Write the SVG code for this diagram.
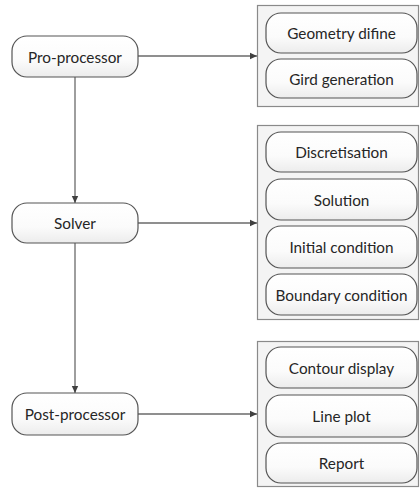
<svg xmlns="http://www.w3.org/2000/svg" width="420" height="489" viewBox="0 0 420 489">
<defs>
<linearGradient id="pill" x1="0" y1="0" x2="0" y2="1">
<stop offset="0" stop-color="#ffffff"/>
<stop offset="0.6" stop-color="#fbfbfb"/>
<stop offset="1" stop-color="#ececec"/>
</linearGradient>
<marker id="arr" markerWidth="8" markerHeight="8" refX="7" refY="4" orient="auto" markerUnits="userSpaceOnUse">
<path d="M0,0.8 L7,4 L0,7.2 Z" fill="#404040"/>
</marker>
</defs>
<style>
.pill{fill:url(#pill);stroke:#555;stroke-width:1.2}
.box{fill:#f4f4f4;stroke:#8a8a8a;stroke-width:1.2}
text{font-family:Lato,"Open Sans","Liberation Sans",sans-serif;font-size:15.3px;fill:#262626;text-anchor:middle;dominant-baseline:central}
.c{fill:none;stroke:#6a6a6a;stroke-width:1.3}
</style>
<rect width="420" height="489" fill="#ffffff"/>
<g id="connectors">
<line class="c" x1="75" y1="77" x2="75" y2="203" marker-end="url(#arr)"/>
<line class="c" x1="75" y1="243" x2="75" y2="393" marker-end="url(#arr)"/>
<line class="c" x1="138" y1="56" x2="257" y2="56" marker-end="url(#arr)"/>
<line class="c" x1="138" y1="223" x2="257" y2="223" marker-end="url(#arr)"/>
<line class="c" x1="138" y1="414" x2="257" y2="414" marker-end="url(#arr)"/>
</g>
<g id="pro-processor">
<rect class="pill" x="12" y="36" width="126" height="41" rx="15"/>
<text x="75" y="56.5">Pro-processor</text>
</g>
<g id="solver">
<rect class="pill" x="12" y="203" width="126" height="40" rx="15"/>
<text x="75" y="223">Solver</text>
</g>
<g id="post-processor">
<rect class="pill" x="12" y="393" width="126" height="42" rx="15"/>
<text x="75" y="414">Post-processor</text>
</g>
<g id="group-pre">
<rect class="box" x="257.5" y="5.5" width="161" height="101"/>
<g id="geometry"><rect class="pill" x="266" y="13" width="151" height="40" rx="15"/><text x="341.5" y="33">Geometry difine</text></g>
<g id="grid"><rect class="pill" x="266" y="59" width="151" height="39" rx="15"/><text x="341.5" y="78.5">Gird generation</text></g>
</g>
<g id="group-solver">
<rect class="box" x="257.5" y="125.5" width="161" height="194"/>
<g id="discretisation"><rect class="pill" x="266" y="132" width="151" height="40" rx="15"/><text x="341.5" y="152">Discretisation</text></g>
<g id="solution"><rect class="pill" x="266" y="179" width="151" height="41" rx="15"/><text x="341.5" y="199.5">Solution</text></g>
<g id="initial"><rect class="pill" x="266" y="226" width="151" height="42" rx="15"/><text x="341.5" y="247">Initial condition</text></g>
<g id="boundary"><rect class="pill" x="266" y="274" width="151" height="41" rx="15"/><text x="341.5" y="294.5">Boundary condition</text></g>
</g>
<g id="group-post">
<rect class="box" x="257.5" y="341.5" width="161" height="145"/>
<g id="contour"><rect class="pill" x="266" y="347" width="151" height="41" rx="15"/><text x="341.5" y="367.5">Contour display</text></g>
<g id="lineplot"><rect class="pill" x="266" y="395" width="151" height="42" rx="15"/><text x="341.5" y="416">Line plot</text></g>
<g id="report"><rect class="pill" x="266" y="443" width="151" height="40" rx="15"/><text x="341.5" y="463">Report</text></g>
</g>
</svg>
